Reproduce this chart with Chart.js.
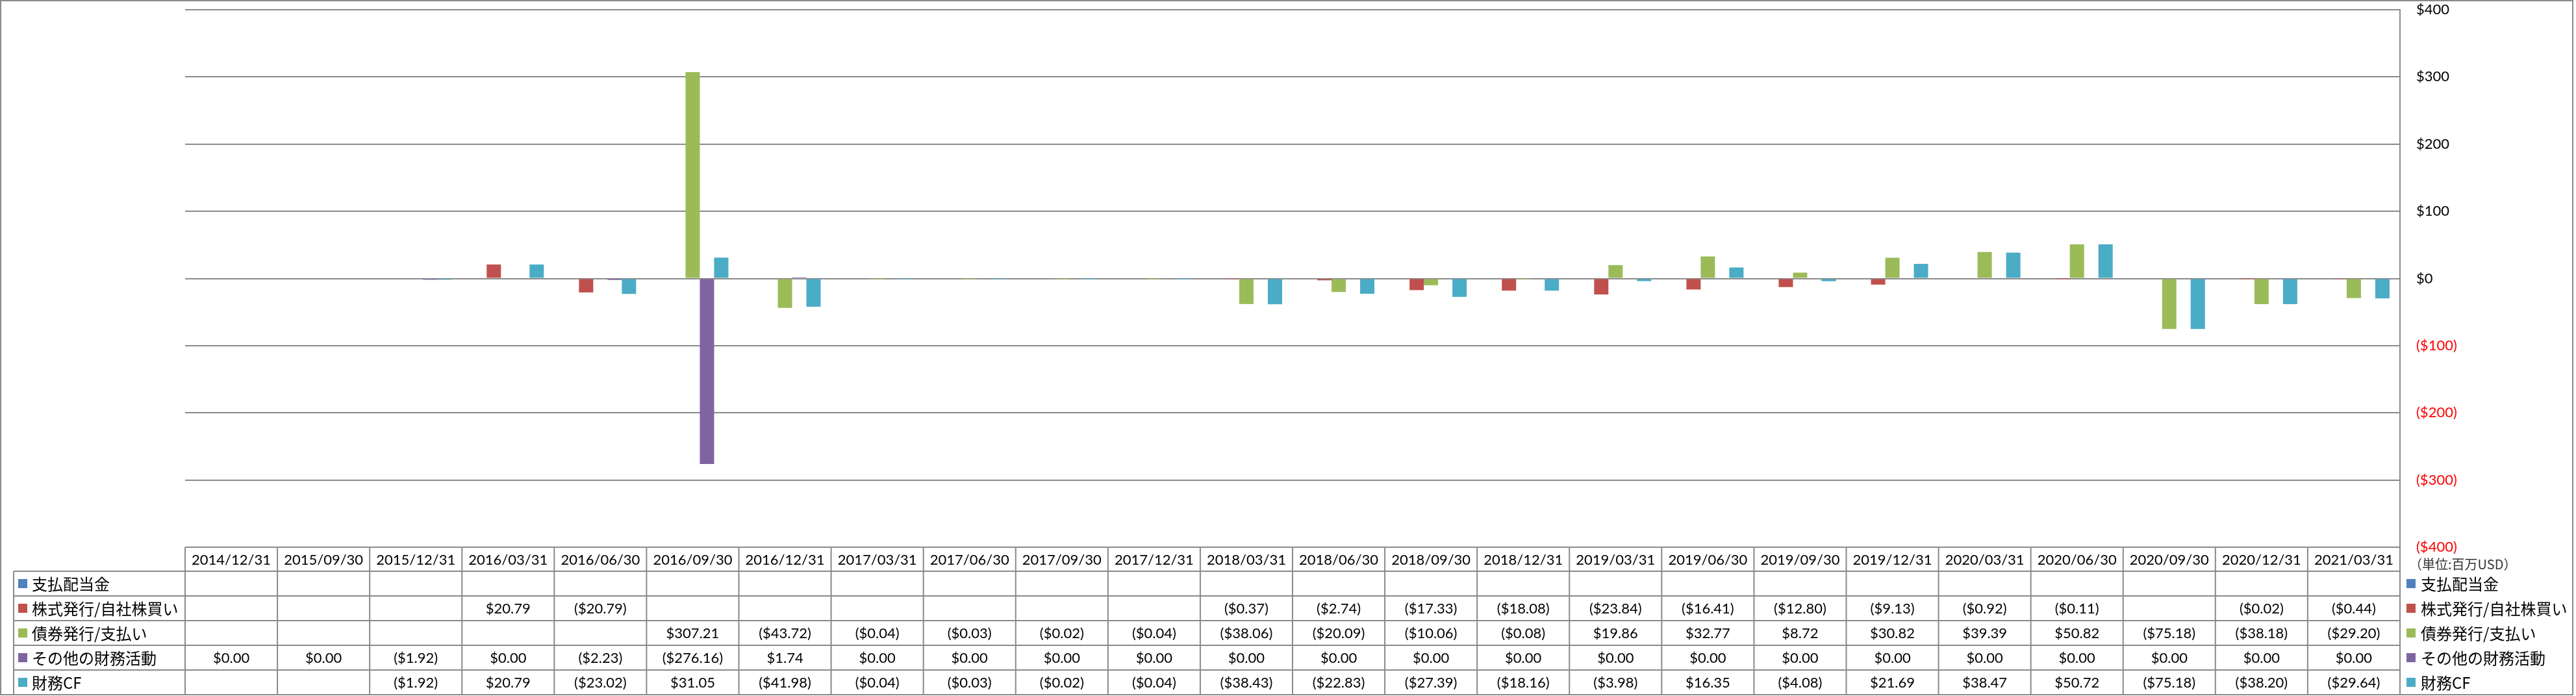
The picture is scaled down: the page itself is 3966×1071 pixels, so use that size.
<!DOCTYPE html>
<html>
<head>
<meta charset="utf-8">
<script src="https://cdn.jsdelivr.net/npm/chart.js@4.4.1/dist/chart.umd.min.js"></script>
<style>
html,body{margin:0;padding:0;background:#fff;}
#wrap{width:3966px;height:1071px;position:relative;}
</style>
</head>
<body>
<div id="wrap"><canvas id="c"></canvas></div>
<script>
const categories = ["2014/12/31","2015/09/30","2015/12/31","2016/03/31","2016/06/30","2016/09/30","2016/12/31","2017/03/31","2017/06/30","2017/09/30","2017/12/31","2018/03/31","2018/06/30","2018/09/30","2018/12/31","2019/03/31","2019/06/30","2019/09/30","2019/12/31","2020/03/31","2020/06/30","2020/09/30","2020/12/31","2021/03/31"];
const seriesNames = ["支払配当金","株式発行/自社株買い","債券発行/支払い","その他の財務活動","財務CF"];
const dividends = [null,null,null,null,null,null,null,null,null,null,null,null,null,null,null,null,null,null,null,null,null,null,null,null];
const stock = [null,null,null,20.79,-20.79,null,null,null,null,null,null,-0.37,-2.74,-17.33,-18.08,-23.84,-16.41,-12.80,-9.13,-0.92,-0.11,null,-0.02,-0.44];
const bonds = [null,null,null,null,null,307.21,-43.72,-0.04,-0.03,-0.02,-0.04,-38.06,-20.09,-10.06,-0.08,19.86,32.77,8.72,30.82,39.39,50.82,-75.18,-38.18,-29.20];
const other = [0,0,-1.92,0,-2.23,-276.16,1.74,0,0,0,0,0,0,0,0,0,0,0,0,0,0,0,0,0];
const financeCF = [null,null,-1.92,20.79,-23.02,31.05,-41.98,-0.04,-0.03,-0.02,-0.04,-38.43,-22.83,-27.39,-18.16,-3.98,16.35,-4.08,21.69,38.47,50.72,-75.18,-38.20,-29.64];
const yTicks = [-400,-300,-200,-100,0,100,200,300,400];
const unitLabel = "（単位:百万USD）";

const colors = ["#4F81BD","#C0504D","#9BBB59","#8064A2","#4BACC6"];
const seriesData = [dividends, stock, bonds, other, financeCF];
const GRAY = "#8a8a8a";
const LATIN = "22px Lato, 'Noto Sans CJK JP', sans-serif";
const CJK = "24px 'Noto Sans CJK JP', sans-serif";

function money(v){
  if (v === null || v === undefined) return "";
  if (v < 0) return "($" + Math.abs(v).toFixed(2) + ")";
  return "$" + v.toFixed(2);
}
function axisMoney(v){
  if (v < 0) return "($" + Math.abs(v) + ")";
  return "$" + v;
}

const tablePlugin = {
  id: "dataTable",
  afterDraw(chart){
    const ctx = chart.ctx;
    const xs = chart.scales.x;
    const area = chart.chartArea;
    const n = categories.length;
    const colW = (area.right - area.left) / n;
    const top = area.bottom;
    const headH = 37;
    const rowH = 38;
    const rowsTop = top + headH;
    const tableBottom = rowsTop + rowH * seriesNames.length;
    const labelLeft = 21;
    ctx.save();
    ctx.strokeStyle = GRAY;
    ctx.lineWidth = 2;
    ctx.beginPath();
    ctx.moveTo(area.left, top); ctx.lineTo(area.right, top);
    for (let i = 0; i <= seriesNames.length; i++){
      const y = rowsTop + i * rowH;
      ctx.moveTo(labelLeft, y); ctx.lineTo(area.right, y);
    }
    ctx.moveTo(labelLeft, rowsTop); ctx.lineTo(labelLeft, tableBottom);
    for (let i = 0; i <= n; i++){
      const x = area.left + i * colW;
      ctx.moveTo(x, top); ctx.lineTo(x, tableBottom);
    }
    ctx.moveTo(area.right, area.top); ctx.lineTo(area.right, tableBottom);
    ctx.stroke();
    ctx.strokeRect(1, 1, 3960, 1068);

    ctx.fillStyle = "#000";
    ctx.textAlign = "center";
    ctx.textBaseline = "middle";
    ctx.font = LATIN;
    for (let i = 0; i < n; i++){
      ctx.fillText(categories[i], xs.getPixelForValue(i), top + headH / 2 + 1);
    }
    for (let s = 0; s < seriesNames.length; s++){
      const cy = rowsTop + s * rowH + rowH / 2 + 1;
      for (let i = 0; i < n; i++){
        const t = money(seriesData[s][i]);
        if (t) ctx.fillText(t, xs.getPixelForValue(i), cy);
      }
    }
    ctx.textAlign = "left";
    ctx.font = CJK;
    for (let s = 0; s < seriesNames.length; s++){
      const cy = rowsTop + s * rowH + rowH / 2;
      ctx.fillStyle = colors[s];
      ctx.fillRect(28, cy - 7, 14, 14);
      ctx.fillRect(area.right + 10, cy - 7, 14, 14);
      ctx.fillStyle = "#000";
      ctx.fillText(seriesNames[s], 49, cy + 1);
      ctx.fillText(seriesNames[s], area.right + 32, cy + 1);
    }
    ctx.font = "20px 'Noto Sans CJK JP', sans-serif";
    ctx.fillStyle = "#333";
    ctx.fillText(unitLabel, area.right + 14, top + 26);
    ctx.restore();
  }
};

new Chart(document.getElementById("c"), {
  type: "bar",
  data: {
    labels: categories,
    datasets: seriesNames.map((name, i) => ({
      label: name,
      data: seriesData[i],
      backgroundColor: colors[i],
      borderWidth: 0,
      barPercentage: 1.0,
      categoryPercentage: 0.774
    }))
  },
  options: {
    responsive: true,
    maintainAspectRatio: false,
    animation: false,
    devicePixelRatio: 1,
    layout: { padding: { left: 285, top: 15, bottom: 229, right: 0 } },
    plugins: { legend: { display: false }, tooltip: { enabled: false } },
    scales: {
      x: { display: false, grid: { display: false } },
      y: {
        position: "right",
        min: -400, max: 400,
        afterBuildTicks(scale){ scale.ticks = yTicks.map(v => ({ value: v })); },
        afterFit(scale){ scale.width = 271; },
        grid: { color: GRAY, lineWidth: 2, drawTicks: true, tickLength: 25, tickColor: "rgba(0,0,0,0)" },
        border: { display: true, color: GRAY, width: 2 },
        ticks: {
          padding: 0,
          font: { family: "Lato, 'Noto Sans CJK JP', sans-serif", size: 22 },
          color: (c) => (c.tick && c.tick.value < 0) ? "#FF0000" : "#000",
          callback: (v) => axisMoney(v)
        }
      }
    }
  },
  plugins: [tablePlugin]
});
</script>
</body>
</html>
